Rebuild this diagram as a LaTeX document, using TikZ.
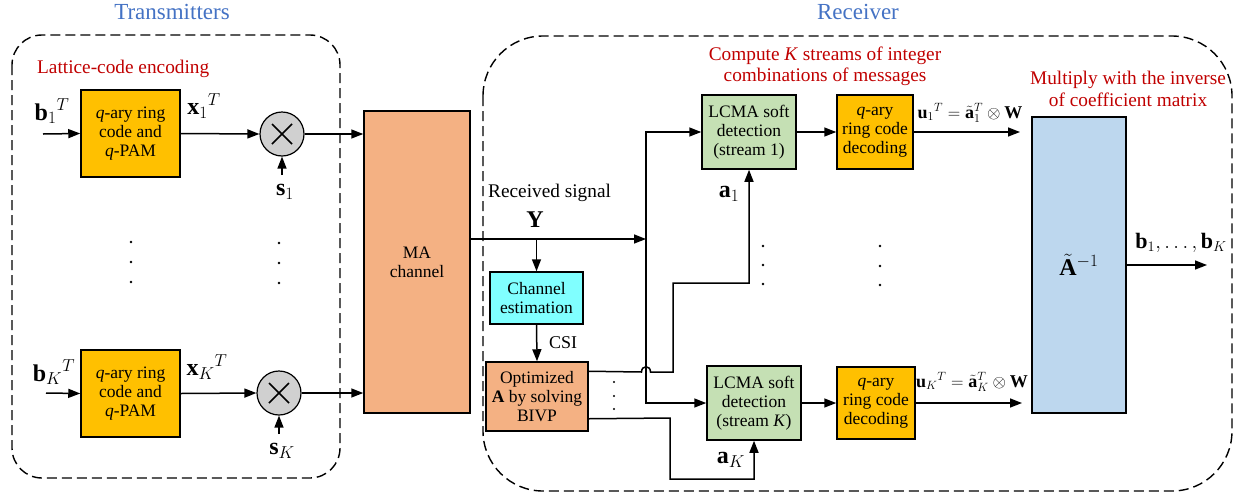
\documentclass[tikz,border=0pt]{standalone}
\usepackage{fontspec}
\setmainfont{Liberation Serif}
\usetikzlibrary{arrows.meta,calc}
\definecolor{ttl}{HTML}{4472C4}
\definecolor{rd}{HTML}{C00000}
\definecolor{yel}{HTML}{FFC000}
\definecolor{org}{HTML}{F4B183}
\definecolor{cyn}{HTML}{80FFFF}
\definecolor{grn}{HTML}{C5E0B4}
\definecolor{blu}{HTML}{BDD7EE}
\definecolor{gry}{HTML}{D0D0D0}
\begin{document}
\begin{tikzpicture}[x=1pt,y=-1pt,
  blk/.style={draw,line width=1.5pt,inner sep=0pt,align=center,font=\fontsize{17.5}{19}\selectfont},
  mul/.style={draw,circle,fill=gry,line width=1.2pt,minimum size=44pt,inner sep=0pt},
  ln/.style={line width=1.5pt},
  arr/.style={line width=1.5pt,-{Triangle[length=12pt,width=9pt]}},
  lab/.style={font=\fontsize{19.3}{21}\selectfont,inner sep=0pt},
  mlab/.style={font=\fontsize{24}{28}\selectfont,inner sep=0pt},
  slab/.style={font=\fontsize{18}{20}\selectfont,inner sep=0pt},
  ttlab/.style={font=\fontsize{23}{26}\selectfont,text=ttl,inner sep=0pt},
  grp/.style={draw,line width=1.4pt,dash pattern=on 10pt off 5pt},
  dot/.style={fill,circle,inner sep=0pt,minimum size=2.8pt}
]
\useasboundingbox (0,0) rectangle (1239,493);

% group frames
\draw[grp,rounded corners=30pt] (12,35) rectangle (340,478);
\draw[grp,rounded corners=60pt] (483,36) rectangle (1232,491);

% titles and captions
\node[ttlab] (ttx) at (172,12) {Transmitters};
\node[ttlab] (trx) at (858,12) {Receiver};
\node[lab,text=rd,anchor=west] (lce) at (37,69) {Lattice-code encoding};
\node[lab,text=rd,align=center,font=\fontsize{19.3}{21}\selectfont] (cmp) at (825,66) {Compute \textit{K} streams of integer\\combinations of messages};
\node[lab,text=rd,align=center,font=\fontsize{19.3}{22}\selectfont] (mwi) at (1128,89) {Multiply with the inverse\\of coefficient matrix};

% transmitter blocks
\node[blk,fill=yel,minimum width=99pt,minimum height=87pt] (enc1) at (130.5,133.5) {\textit{q}-ary ring\\code and\\\textit{q}-PAM};
\node[blk,fill=yel,minimum width=99pt,minimum height=87pt] (encK) at (130.5,393.5) {\textit{q}-ary ring\\code and\\\textit{q}-PAM};
\node[mul] (mul1) at (282,134) {};
\node[mul] (mulK) at (279,393) {};
\draw[ln] ($(mul1)+(-10,-10)$) -- ($(mul1)+(10,10)$) ($(mul1)+(-10,10)$) -- ($(mul1)+(10,-10)$);
\draw[ln] ($(mulK)+(-10,-10)$) -- ($(mulK)+(10,10)$) ($(mulK)+(-10,10)$) -- ($(mulK)+(10,-10)$);

\node[blk,fill=org,minimum width=106pt,minimum height=302pt] (MA) at (417,262) {MA\\channel};

% labels transmitter side
\node[mlab] (b1l) at (52,111) {${\mathbf{b}_1}^{T}$};
\node[mlab] (x1l) at (204,106) {${\mathbf{x}_1}^{T}$};
\node[mlab] (s1l) at (285,192) {$\mathbf{s}_1$};
\node[mlab] (bKl) at (54,372) {${\mathbf{b}_K}^{T}$};
\node[mlab] (xKl) at (207,367) {${\mathbf{x}_K}^{T}$};
\node[mlab] (sKl) at (282,451) {$\mathbf{s}_K$};

\coordinate (b1in) at (43,134);
\coordinate (bKin) at (46,393);
\coordinate (s1in) at (282,175);
\coordinate (sKin) at (279,434);

\draw[arr] (b1in) -- (enc1.west);
\draw[arr] (bKin) -- (encK.west);
\draw[arr] (enc1.east) -- (mul1.west);
\draw[arr] (encK.east) -- (mulK.west);
\draw[arr] (s1in) -- (mul1.south);
\draw[arr] (sKin) -- (mulK.south);
\draw[arr] (mul1.east) -- (mul1.east -| MA.west);
\draw[arr] (mulK.east) -- (mulK.east -| MA.west);

% vertical dots transmitter
\foreach \y in {242,262,282} {\node[dot] at (131,\y) {};}
\foreach \y in {243,263,283} {\node[dot] at (279,\y) {};}

% receiver blocks
\node[blk,fill=cyn,minimum width=93pt,minimum height=52pt] (chest) at (536.5,298) {Channel\\estimation};
\node[blk,fill=org,minimum width=102pt,minimum height=69pt] (opt) at (537,396.5) {Optimized\\\textbf{A} by solving\\BIVP};
\node[blk,fill=grn,minimum width=94pt,minimum height=74pt] (lcma1) at (749,132) {LCMA soft\\detection\\(stream 1)};
\node[blk,fill=grn,minimum width=94pt,minimum height=74pt] (lcmaK) at (754,403) {LCMA soft\\detection\\(stream \textit{K})};
\node[blk,fill=yel,minimum width=76pt,minimum height=74pt] (dec1) at (875,132) {\textit{q}-ary\\ring code\\decoding};
\node[blk,fill=yel,minimum width=78pt,minimum height=72pt] (decK) at (876,403) {\textit{q}-ary\\ring code\\decoding};
\node[draw,line width=1.5pt,fill=blu,minimum width=94pt,minimum height=296pt,inner sep=0pt,font=\fontsize{24}{28}\selectfont] (inv) at (1079,265) {$\tilde{\mathbf{A}}^{-1}$};

% receiver labels
\node[lab,anchor=west] (rsl) at (488,193) {Received signal};
\node[mlab] (yl) at (535,220) {$\mathbf{Y}$};
\node[slab] (csil) at (563,343) {CSI};
\node[mlab] (a1l) at (729,194) {$\mathbf{a}_1$};
\node[mlab] (aKl) at (731,460) {$\mathbf{a}_K$};
\node[slab] (u1l) at (970,113) {${\mathbf{u}_1}^{T}={\tilde{\mathbf{a}}_1}^{T}\otimes\mathbf{W}$};
\node[slab] (uKl) at (972,382) {${\mathbf{u}_K}^{T}={\tilde{\mathbf{a}}_K}^{T}\otimes\mathbf{W}$};
\node[font=\fontsize{22}{26}\selectfont,inner sep=0pt] (bout) at (1181,243) {$\mathbf{b}_1,\ldots,\mathbf{b}_K$};

% receiver connectors
\coordinate (J) at (646,239);
\draw[arr] (MA.east |- J) -- (J);
\draw[arr] (J) |- (lcma1.west);
\draw[arr] (J) |- (lcmaK.west);
\draw[arr] (chest.north |- J) -- (chest.north);
\draw[arr] (chest.south) -- (opt.north);

\coordinate (o1) at ($(opt.north east)+(0,10)$);
\coordinate (o2) at ($(opt.south east)+(0,-13)$);
\draw[arr] (o1) -- (641.5,372) .. controls (641.5,365) and (650.5,365) .. (650.5,372) -- (673,372) -- (673,283) -- (lcma1.south |- 0,283) -- (lcma1.south);
\draw[arr] (o2) -- (670,418) -- (670,479) -- (lcmaK.south |- 0,479) -- (lcmaK.south);

\draw[arr] (lcma1.east) -- (dec1.west);
\draw[arr] (lcmaK.east) -- (decK.west);
\coordinate (u1end) at (1020,132);
\coordinate (uKend) at (1022,403);
\draw[arr] (dec1.east) -- (u1end);
\draw[arr] (decK.east) -- (uKend);
\coordinate (bend) at (1207,265);
\draw[arr] (inv.east) -- (bend);

% dots receiver
\foreach \y in {246,265,284} {\node[dot] at (763,\y) {};}
\foreach \y in {246,266,285} {\node[dot] at (880,\y) {};}
\foreach \y in {382,396,409} {\node[dot,minimum size=2.2pt] at (614,\y) {};}
\end{tikzpicture}
\end{document}
